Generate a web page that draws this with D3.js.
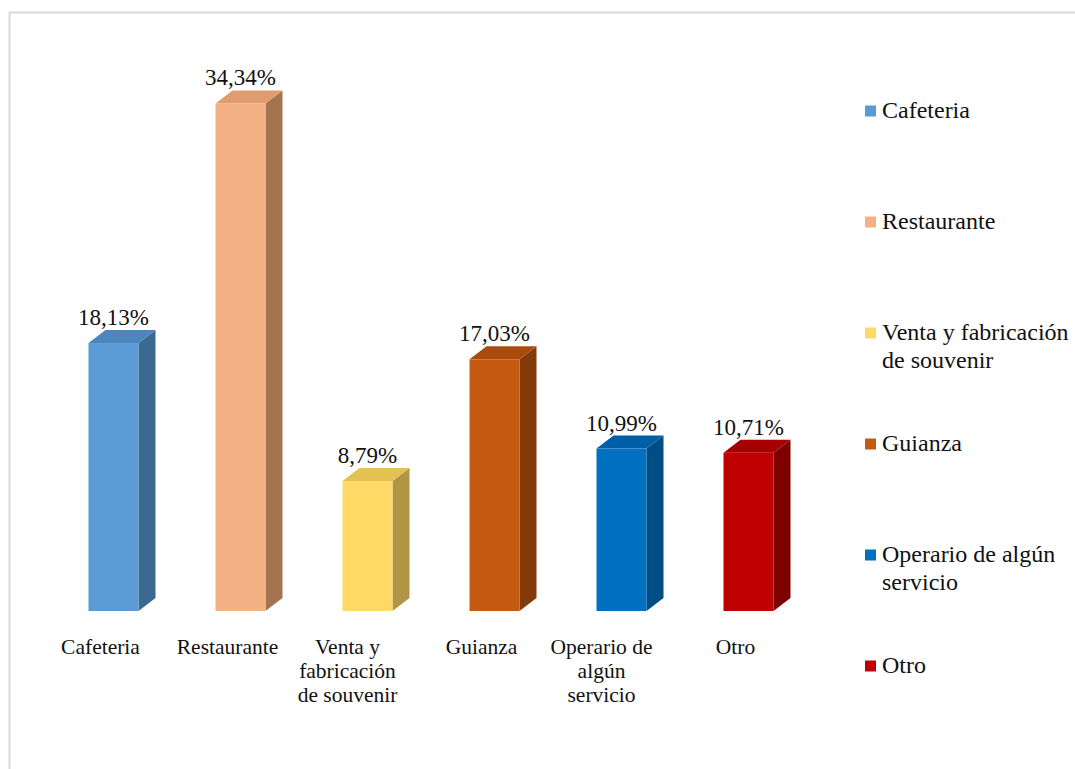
<!DOCTYPE html>
<html><head><meta charset="utf-8">
<script src="https://cdn.jsdelivr.net/npm/d3@7"></script>
<style>body{margin:0;background:#fff}svg{display:block}</style>
</head><body>
<svg id="c" width="1075" height="769"></svg>
<script>
const categories = ["Cafeteria","Restaurante","Venta y fabricación de souvenir","Guianza","Operario de algún servicio","Otro"];
const axisLabels = [["Cafeteria"],["Restaurante"],["Venta y","fabricación","de souvenir"],["Guianza"],["Operario de","algún","servicio"],["Otro"]];
const legendLabels = [["Cafeteria"],["Restaurante"],["Venta y fabricación","de souvenir"],["Guianza"],["Operario de algún","servicio"],["Otro"]];
const values = [18.13, 34.34, 8.79, 17.03, 10.99, 10.71];
const valueLabels = ["18,13%","34,34%","8,79%","17,03%","10,99%","10,71%"];
const frontColors = ["#5B9BD5","#F4B183","#FFD966","#C55A11","#0070C0","#C00000"];
const topColors   = ["#4C86BC","#DF9C6E","#E3C153","#A94B0D","#005FA6","#A60000"];
const sideColors  = ["#3C6990","#A3744F","#B09545","#853B09","#004C85","#7F0000"];

const svg = d3.select("#c");
const font = "'Liberation Serif','Times New Roman',serif";

// frame
svg.append("rect").attr("x",9.5).attr("y",12.5).attr("width",1100).attr("height",800)
  .attr("fill","none").attr("stroke","#d9d9d9").attr("stroke-width",2);

const x = d3.scaleBand().domain(categories).range([50, 812]).padding(0);
const y = d3.scaleLinear().domain([0, 35]).range([611, 93.7]);
const bw = 50, dx = 17, dy = 13;

const g = svg.append("g");
categories.forEach((c,i)=>{
  const x0 = x(c) + (x.bandwidth()-bw)/2, x1 = x0 + bw;
  const yt = y(values[i]), yb = y(0);
  g.append("path").attr("d", d3.line()([[x1,yt],[x1+dx,yt-dy],[x1+dx,yb-dy],[x1,yb]])+"Z").attr("fill",sideColors[i]);
  g.append("path").attr("d", d3.line()([[x0,yt],[x0+dx,yt-dy],[x1+dx,yt-dy],[x1,yt]])+"Z").attr("fill",topColors[i]);
  g.append("rect").attr("x",x0).attr("y",yt).attr("width",bw).attr("height",yb-yt).attr("fill",frontColors[i]);
  g.append("text").attr("x",x0+bw/2).attr("y",yt-dy-5).attr("text-anchor","middle")
    .attr("font-family",font).attr("font-size",23).attr("fill","#111").text(valueLabels[i]);
  const lx = x0 + bw/2 - (axisLabels[i].length > 1 ? 20 : 13);
  const t = g.append("text").attr("text-anchor","middle").attr("font-family",font).attr("font-size",21.5).attr("fill","#111");
  axisLabels[i].forEach((ln,j)=>{
    t.append("tspan").attr("x",lx).attr("y",654+j*24).text(ln);
  });
});

// legend
const lg = svg.append("g");
legendLabels.forEach((lines,i)=>{
  const yy = 111 + i*111;
  lg.append("rect").attr("x",865).attr("y",yy-5.5).attr("width",11).attr("height",11).attr("fill",frontColors[i]);
  const t = lg.append("text").attr("font-family",font).attr("font-size",24).attr("fill","#111");
  lines.forEach((ln,j)=>{
    t.append("tspan").attr("x",882).attr("y",yy+7+j*28).text(ln);
  });
});
</script>
</body></html>
